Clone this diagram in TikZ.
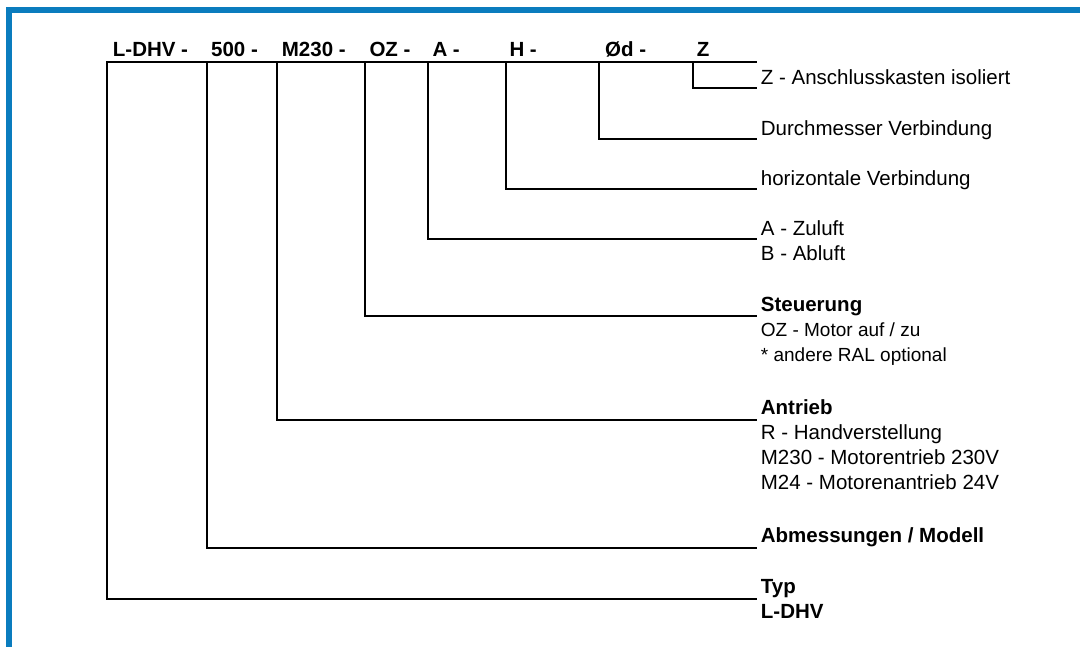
\documentclass[tikz,border=0pt]{standalone}
\usepackage{fontspec}
\setmainfont{Liberation Sans}
\definecolor{frameblue}{RGB}{10,124,190}
\tikzset{
  hdr/.style={font=\bfseries\fontsize{20.5}{25}\selectfont, anchor=base west, inner sep=0pt},
  desc/.style={font=\fontsize{20.5}{25}\selectfont, anchor=base west, inner sep=0pt, align=left},
  conn/.style={line width=2pt, line join=miter},
  frame/.style={draw=frameblue, line width=6pt, line join=miter}
}
\begin{document}
\begin{tikzpicture}[x=1pt,y=-1pt]
\useasboundingbox (0,0) rectangle (1080,647);
% blue frame
\draw[frame] (9,660) -- (9,9.7) -- (1090,9.7);

% header labels
\node[hdr] (hL)  at (112.7,56.7) {L-DHV -};
\node[hdr] (h5)  at (211,56.7)   {500 -};
\node[hdr] (hM)  at (281.7,56.7) {M230 -};
\node[hdr] (hO)  at (369.3,56.7) {OZ -};
\node[hdr] (hA)  at (432.3,56.7) {A -};
\node[hdr] (hH)  at (509.3,56.7) {H -};
\node[hdr] (hD)  at (605,56.7)   {Ød -};
\node[hdr] (hZ)  at (696.7,56.7) {Z};

% junctions on the top line
\coordinate (tL) at (107.3,62.3);
\coordinate (t5) at (206.7,62.3);
\coordinate (tM) at (276.7,62.3);
\coordinate (tO) at (365,62.3);
\coordinate (tA) at (428,62.3);
\coordinate (tH) at (505.5,62.3);
\coordinate (tD) at (599,62.3);
\coordinate (tZ) at (692.5,62.3);
\coordinate (tE) at (756.5,62.3);

% line ends
\coordinate (eZ) at (756.5,88.3);
\coordinate (eD) at (756.5,139);
\coordinate (eH) at (756.5,189.5);
\coordinate (eA) at (756.5,239);
\coordinate (eO) at (756.5,316);
\coordinate (eM) at (756.5,420);
\coordinate (e5) at (756.5,547.5);
\coordinate (eL) at (756.5,599);

% connectors
\draw[conn] (eL) -| (tL) -- (tE);
\draw[conn] (t5) |- (e5);
\draw[conn] (tM) |- (eM);
\draw[conn] (tO) |- (eO);
\draw[conn] (tA) |- (eA);
\draw[conn] (tH) |- (eH);
\draw[conn] (tD) |- (eD);
\draw[conn] (tZ) |- (eZ);

% descriptions (anchor = baseline of the last line)
\node[desc] (dZ) at (760.7,85)    {Z - Anschlusskasten isoliert};
\node[desc] (dD) at (760.7,136)   {Durchmesser Verbindung};
\node[desc] (dH) at (760.7,185.5) {horizontale Verbindung};
\node[desc] (dA) at (760.7,261)   {A - Zuluft\\B - Abluft};
\node[desc] (dO) at (760.7,361.7) {\textbf{Steuerung}\\\fontsize{19}{25}\selectfont OZ - Motor auf / zu\\\fontsize{19}{25}\selectfont * andere RAL optional};
\node[desc] (dM) at (760.7,489)   {\textbf{Antrieb}\\R - Handverstellung\\M230 - Motorentrieb 230V\\M24 - Motorenantrieb 24V};
\node[desc] (d5) at (760.7,542)   {\textbf{Abmessungen / Modell}};
\node[desc] (dL) at (760.7,618.3) {\textbf{Typ}\\\textbf{L-DHV}};
\end{tikzpicture}
\end{document}
